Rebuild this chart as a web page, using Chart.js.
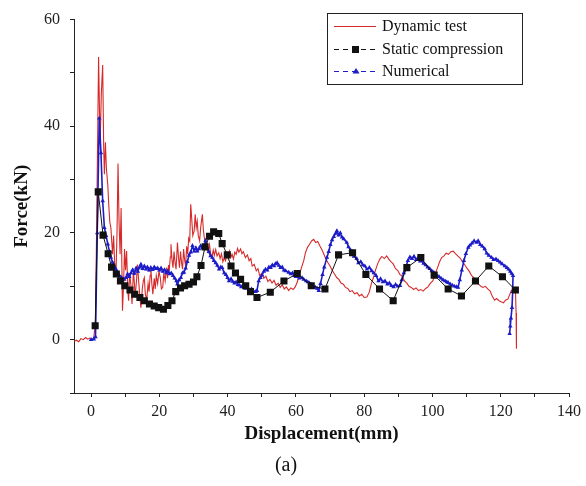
<!DOCTYPE html>
<html>
<head>
<meta charset="utf-8">
<title>Force vs Displacement</title>
<script src="https://cdn.jsdelivr.net/npm/chart.js@4/dist/chart.umd.min.js"></script>
<style>
  body { margin: 0; background: #fff; }
  #wrap { position: relative; width: 586px; height: 486px; }
  #caption {
    position: absolute; left: 0; width: 572px; top: 453px;
    text-align: center; font: 20px "Liberation Serif", "Times New Roman", serif; color: #111;
  }
</style>
</head>
<body>
<div id="wrap">
  <canvas id="chart" width="586" height="486"></canvas>
  <div id="caption">(a)</div>
</div>
<script>
/* ---------- data ---------- */

// Dynamic test (red, solid)
const dynX = [-5,-4.3,-3.6,-3.0,-2.3,-1.6,-1.0,-0.4,0.2,0.8,1.3,1.7,2.2,2.5,2.7,3.0,3.4,3.7,3.9,4.2,4.5,4.9,5.2,5.5,5.8,6.1,6.3,6.6,6.9,7.3,7.6,7.9,8.2,8.5,8.8,9.2,9.5,9.8,10.1,10.4,10.8,11.0,11.3,11.7,12.0,12.4,12.7,12.9,13.3,13.6,14.0,14.3,14.6,15.0,15.3,15.6,15.9,16.3,16.7,17.0,17.3,17.5,17.8,18.1,18.5,18.8,19.1,19.5,19.9,20.3,20.6,21.0,21.3,21.7,22.1,22.4,22.7,22.9,23.2,23.4,23.7,24.0,24.3,24.6,24.9,25.3,25.6,25.9,26.2,26.5,26.8,27.1,27.4,27.7,28.0,28.3,28.6,28.9,29.2,29.5,29.8,30.2,30.5,30.8,31.1,31.4,31.8,32.1,32.4,32.6,32.9,33.3,33.7,34.0,34.3,34.7,35.0,35.4,35.8,36.1,36.5,36.9,37.4,37.8,38.2,38.6,39.0,39.4,39.8,40.2,40.6,41.0,41.3,41.7,42.1,42.5,42.9,43.3,43.8,44.2,44.6,
  45.2,45.8,46.3,46.8,47.2,47.8,48.4,48.9,49.4,50.0,50.6,51.2,51.8,52.4,53.0,53.6,54.2,54.8,55.4,56.0,56.6,57.2,57.9,58.5,59.2,59.8,60.4,61.0,61.6,62.3,62.8,63.4,64.0,64.6,65.2,65.8,66.4,67.0,67.6,68.2,68.8,69.4,70.0,70.7,71.3,72.0,72.6,73.2,73.9,74.5,75.2,75.8,76.5,77.2,77.9,78.6,79.3,80.0,80.8,81.5,82.1,82.7,83.3,84.0,84.6,85.2,85.9,86.6,87.2,87.9,88.5,89.2,89.8,90.5,91.1,91.8,92.5,93.1,93.8,94.5,95.2,95.9,96.6,97.3,98.0,98.7,99.4,100.1,100.8,101.5,102.1,102.7,103.4,104.0,104.7,105.4,106.1,106.8,107.4,108.1,108.8,109.4,110.1,110.8,111.5,112.2,112.8,113.5,114.2,114.8,115.5,116.2,116.9,117.5,118.2,118.8,119.5,120.1,120.8,121.4,122.1,122.6,123.1,123.7,124.3,124.5,124.6];
const dynY = [-0.3,-0.1,-0.4,0.2,0.0,0.4,0.1,0.3,-0.1,0.3,3.5,25,53,42,38,46,51.5,36,31,37,32,29,25,22,21,18,16,19.5,14.5,12.3,20,33,22,16,24.7,5.4,10,17,13,16.6,9,7.3,12.5,10,6.7,12.9,10.5,7.9,11,14.1,10.5,8,6,9.5,11,11.6,8.5,7.5,10.5,9,12,13.5,10.5,8.5,11.5,9.5,12,10.5,12.9,11.5,9.5,9.8,12.5,11,13.5,11.5,14,12.9,15.5,17.9,15,13.5,16.5,14.5,13.2,18.2,15.5,13.5,16.5,14.5,13.2,17,15,13.8,17.5,16,19,18.5,25.4,22.5,19.5,20.4,23.5,21,22.2,19.5,18.5,21,22.5,23.5,20.5,18.5,17.5,18,16.6,17.8,16.2,15.5,16.8,15.8,16.9,15.7,16.3,15.2,16.1,14.6,15.3,14.8,16.2,15.2,16.6,15.5,16,15.1,16.4,16.0,17.1,16.4,17,16.1,16.5,
  15.4,15.9,14.8,15.2,13.8,14.1,12.9,13.3,12.0,12.4,11.5,11.9,10.9,11.3,10.6,11.1,10.2,10.6,9.8,10.3,9.5,9.9,9.2,9.7,9.4,9.9,10.8,12.2,13.4,14.8,16.3,17.3,17.9,18.5,18.8,18.2,18.4,17.6,16.9,16.0,15.1,14.4,13.8,12.9,12.3,11.6,11.3,10.6,10.4,9.8,9.6,9.0,9.2,8.6,8.8,8.2,8.5,7.9,8.0,8.9,10.5,11.6,13.0,14.3,15.1,15.6,15.2,15.7,15.1,14.6,14.2,13.3,13.0,12.2,11.9,11.0,10.6,10.0,9.8,9.4,9.7,9.2,9.4,9.1,9.6,9.9,10.6,11.0,12.3,13.5,14.6,15.4,15.7,16.2,16.0,16.5,16.6,16.1,15.7,15.3,14.6,14.1,13.4,12.8,12.0,11.6,10.9,10.4,10.0,9.8,10.0,9.5,9.1,8.2,7.4,7.7,7.3,7.1,6.9,7.4,7.6,8.4,9.2,9.6,9.8,5.0,-1.7];

// Static compression (black squares)
const staticX = [1.2,2.1,3.5,5.0,6.0,7.4,8.6,9.9,11.4,12.8,14.3,15.6,17.1,18.5,19.8,21.2,22.5,23.7,24.8,26.2,27.4,28.7,30.0,31.0,32.2,33.4,34.7,35.9,37.4,38.4,39.9,41.0,42.3,43.8,45.3,46.7,48.6,52.5,56.5,60.4,64.5,68.5,72.5,76.6,80.5,84.5,88.5,92.5,96.6,100.5,104.6,108.5,112.6,116.5,120.5,124.3];
const staticY = [2.6,27.7,19.6,16.1,13.6,12.3,11.0,10.1,9.3,8.5,7.9,7.3,6.7,6.3,6.0,5.7,6.4,7.3,9.0,9.7,10.1,10.4,10.8,11.8,13.9,17.4,19.4,20.2,19.9,18.0,15.9,13.8,12.5,11.3,10.1,9.0,7.9,8.9,11.0,12.4,10.1,9.5,15.9,16.3,12.2,9.5,7.3,13.5,15.4,12.1,9.5,8.2,11.0,13.8,11.8,9.3];

// Numerical (blue triangles)
const numX = [0,0.8,1.3,1.8,2.4,2.9,3.4,3.9,4.4,4.9,5.4,5.8,6.3,6.8,7.3,7.8,8.3,8.8,9.3,9.7,10.2,10.7,11.2,11.7,12.2,12.7,13.2,13.7,14.2,14.6,15.1,15.6,16.1,16.5,17.0,17.5,18.0,18.5,19.0,19.5,20.0,20.5,21.0,21.5,22.0,22.5,23.0,23.5,24.0,24.5,25.0,25.3,25.8,26.3,26.8,27.2,27.7,28.2,28.7,29.2,29.7,30.2,30.7,31.1,31.6,32.1,32.6,33.1,33.5,34.0,34.5,35.0,35.5,36.0,36.5,37.0,37.5,38.0,38.4,39.0,39.5,40.0,40.4,41.0,41.5,42.0,42.5,43.0,43.5,44.0,44.5,45.2,45.8,46.5,47.0,47.5,48.2,48.6,49.1,49.6,50.1,50.6,51.1,51.6,52.1,52.6,53.1,53.6,54.0,54.5,55.0,55.5,56.0,56.5,57.0,57.9,58.5,59.0,59.5,60.0,60.5,61.0,61.8,62.3,63.0,63.5,64.0,64.5,65.0,65.7,66.2,66.7,67.2,67.8,68.3,69.1,69.6,70.1,70.6,71.1,71.6,72.0,72.5,73.0,73.5,74.0,74.9,75.4,76.0,76.5,77.0,77.8,78.3,79.0,79.6,80.2,80.8,81.5,82.2,82.8,83.5,84.2,84.8,85.5,86.1,86.8,87.4,88.0,88.6,89.2,89.8,90.5,91.0,91.6,92.2,92.8,93.4,94.0,94.6,95.2,95.8,96.4,96.8,97.4,98.0,98.6,99.2,99.8,100.4,100.7,101.3,101.9,102.5,103.1,103.7,104.2,104.6,105.2,105.8,106.4,107.0,107.5,108.0,108.6,109.2,109.8,110.5,111.0,111.6,112.2,112.9,113.4,114.0,114.6,115.3,115.9,116.5,117.3,117.9,118.6,119.2,119.8,120.4,121.2,121.8,122.3,122.8,123.2,123.6,123.5,123.3,123.0,122.8,122.6];
const numY = [0,0.1,0.5,20,41.5,35,26,21,19.5,17.9,16.5,15.4,14.5,13.8,13.2,12.6,12.0,11.7,11.4,11.3,11.6,12.3,11.8,12.5,13.1,12.4,13.4,12.8,13.6,14.1,13.3,13.8,13.2,13.6,13.0,13.5,13.1,13.6,13.3,13.4,13.0,13.4,12.8,13.1,12.5,12.9,12.3,12.5,12.0,11.5,11.0,10.4,11.2,11.6,12.5,12.6,13.4,14.6,15.8,16.4,17.6,16.6,17.2,16.6,17.0,17.6,17.2,17.3,18.5,17.1,16.5,15.7,15.4,14.8,14.4,13.9,13.2,13.6,13.5,12.5,12.2,11.6,11.0,11.4,10.9,10.6,10.8,10.3,10.2,9.9,10.1,9.6,9.8,9.3,9.5,9.1,9.0,9.2,11.0,11.6,12.1,12.8,13.2,13.0,13.6,13.5,14.0,13.8,14.2,14.4,13.9,13.5,13.6,13.0,12.9,12.6,12.3,12.5,12.0,11.8,11.9,11.5,11.6,11.3,11.0,10.8,10.6,10.3,10.1,9.8,9.6,9.2,10.5,12.2,13.6,15.4,16.5,17.8,18.7,19.3,19.9,20.4,19.6,20.0,19.2,18.9,18.2,17.4,16.8,16.5,15.6,15.2,14.4,14.6,14.0,13.8,13.2,13.5,12.9,12.5,12.0,11.0,11.4,10.8,11.0,10.4,10.6,10.1,9.9,10.3,10.0,10.1,11.2,12.5,13.6,14.8,15.5,15.2,15.6,15.0,15.3,14.7,14.8,14.3,14.0,13.6,13.3,12.9,12.6,12.3,12.0,11.8,11.5,11.2,11.0,10.8,10.7,10.4,10.2,10.0,9.9,9.8,11.2,13.0,14.8,16.1,17.3,17.7,18.1,18.5,18.2,18.5,17.8,17.5,17.0,16.2,15.8,15.4,15.0,15.1,14.8,14.5,14.2,13.8,13.5,13.2,12.8,12.4,12.0,9.0,6.0,4.0,2.5,1.1];

// axis ticks
const xTicks = [0,10,20,30,40,50,60,70,80,90,100,110,120,130,140];
const xLabeled = [0,20,40,60,80,100,120,140];
const yLabeled = [0,20,40,60];

const seriesNames = ['Dynamic test', 'Static compression', 'Numerical'];

/* ---------- helpers ---------- */
const pts = (xs, ys) => xs.map((x, i) => ({ x, y: ys[i] }));
const SERIF = '"Liberation Serif", "Times New Roman", serif';
const RED = '#d62a2a', BLUE = '#1c1cc8', BLACK = '#111';

/* ---------- legend box drawn on the canvas ---------- */
const boxLegend = {
  id: 'boxLegend',
  afterDraw(chart) {
    const ctx = chart.ctx;
    ctx.save();
    ctx.fillStyle = '#fff';
    ctx.fillRect(327, 13, 195, 71);
    ctx.strokeStyle = '#222';
    ctx.lineWidth = 1;
    ctx.strokeRect(327.5, 13.5, 195, 71);

    const rows = [26, 49, 71];
    const styles = [
      { color: RED, dash: [], marker: null },
      { color: BLACK, dash: [5, 4], marker: 'rect' },
      { color: BLUE, dash: [5, 4], marker: 'triangle' }
    ];
    rows.forEach((y, i) => {
      const s = styles[i];
      ctx.strokeStyle = s.color;
      ctx.lineWidth = 1;
      ctx.setLineDash(s.dash);
      ctx.beginPath();
      ctx.moveTo(334, y + 0.5);
      ctx.lineTo(376, y + 0.5);
      ctx.stroke();
      ctx.setLineDash([]);
      ctx.fillStyle = s.color;
      if (s.marker === 'rect') ctx.fillRect(352, y - 3, 7, 7);
      if (s.marker === 'triangle') {
        ctx.beginPath();
        ctx.moveTo(356, y - 3);
        ctx.lineTo(359.5, y + 2.5);
        ctx.lineTo(352.5, y + 2.5);
        ctx.closePath();
        ctx.fill();
      }
      ctx.fillStyle = '#111';
      ctx.font = '16px ' + SERIF;
      ctx.textBaseline = 'middle';
      ctx.fillText(seriesNames[i], 382, y + 1);
    });
    ctx.restore();
  }
};

/* ---------- chart ---------- */
new Chart(document.getElementById('chart'), {
  type: 'line',
  data: {
    datasets: [
      {
        label: seriesNames[1],
        data: pts(staticX, staticY),
        borderColor: BLACK,
        borderWidth: 1,
        backgroundColor: BLACK,
        pointStyle: 'rect',
        pointRadius: 5,
        pointBorderWidth: 0,
        order: 0
      },
      {
        label: seriesNames[2],
        data: pts(numX, numY),
        borderColor: BLUE,
        borderWidth: 1.6,
        backgroundColor: BLUE,
        pointStyle: 'triangle',
        pointRadius: 2.6,
        pointBorderWidth: 0,
        order: 1
      },
      {
        label: seriesNames[0],
        data: pts(dynX, dynY),
        borderColor: RED,
        borderWidth: 1.1,
        pointRadius: 0,
        order: 2
      }
    ]
  },
  options: {
    responsive: false,
    animation: false,
    devicePixelRatio: 1,
    layout: { padding: { top: 17, right: 15, bottom: 0, left: 0 } },
    plugins: { legend: { display: false }, tooltip: { enabled: false } },
    scales: {
      x: {
        type: 'linear',
        min: -5,
        max: 140,
        afterBuildTicks: axis => { axis.ticks = xTicks.map(v => ({ value: v })); },
        afterFit: scale => { scale.height = 93; },
        grid: { drawOnChartArea: false, tickLength: 4, tickColor: '#222' },
        border: { color: '#222', width: 1 },
        ticks: {
          autoSkip: false,
          maxRotation: 0,
          padding: 5,
          color: '#222',
          font: { family: SERIF, size: 16 },
          callback: v => xLabeled.includes(v) ? String(v) : ''
        },
        title: {
          display: true,
          text: 'Displacement(mm)',
          color: '#111',
          font: { family: SERIF, size: 19, weight: 'bold' },
          padding: { top: 0, bottom: 41 }
        }
      },
      y: {
        min: -10,
        max: 60,
        afterFit: scale => { scale.width = 74; },
        grid: { drawOnChartArea: false, tickLength: 4, tickColor: '#222' },
        border: { color: '#222', width: 1 },
        ticks: {
          stepSize: 10,
          autoSkip: false,
          padding: 10,
          color: '#222',
          font: { family: SERIF, size: 16 },
          callback: v => yLabeled.includes(v) ? String(v) : ''
        },
        title: {
          display: true,
          text: 'Force(kN)',
          color: '#111',
          font: { family: SERIF, size: 19, weight: 'bold' },
          padding: { top: 11, bottom: 0 }
        }
      }
    }
  },
  plugins: [boxLegend]
});
</script>
</body>
</html>
